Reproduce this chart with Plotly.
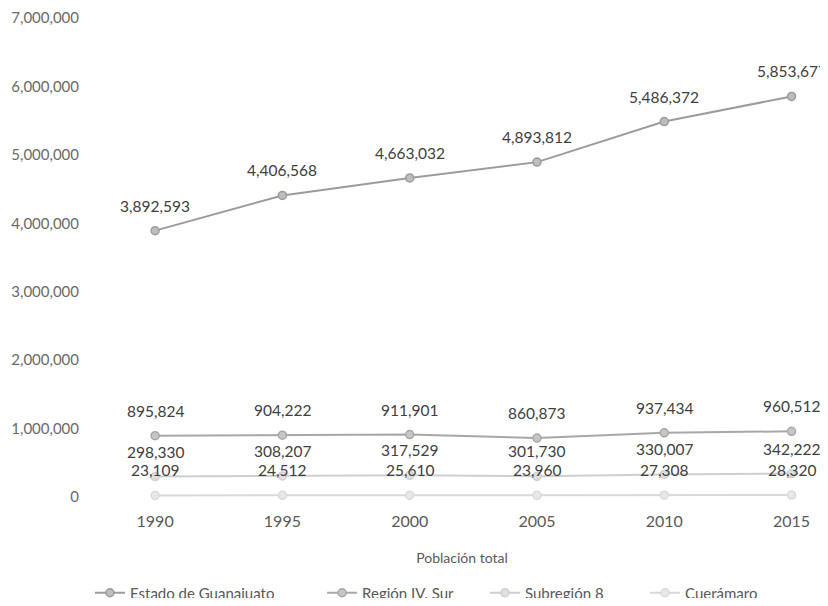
import plotly.graph_objects as go

years = ["1990", "1995", "2000", "2005", "2010", "2015"]
estado = [3892593, 4406568, 4663032, 4893812, 5486372, 5853677]
region = [895824, 904222, 911901, 860873, 937434, 960512]
subregion = [298330, 308207, 317529, 301730, 330007, 342222]
cueramaro = [23109, 24512, 25610, 23960, 27308, 28320]

series = [
    ("Estado de Guanajuato", estado, "#9c9c9c", "#bdbdbd"),
    ("Región IV. Sur", region, "#a8a8a8", "#c6c6c6"),
    ("Subregión 8", subregion, "#cfcfcf", "#e0e0e0"),
    ("Cuerámaro", cueramaro, "#d9d9d9", "#e8e8e8"),
]
legend_x = [-0.0345, 0.299, 0.533, 0.763]

FONT = "Lato"
fig = go.Figure()
legend_ids = ["legend", "legend2", "legend3", "legend4"]
for (name, vals, lc, fc), lid in zip(series, legend_ids):
    fig.add_trace(go.Scatter(
        x=years, y=vals, name=name, mode="lines+markers",
        line=dict(color=lc, width=2),
        marker=dict(symbol="circle", size=8, color=fc, line=dict(color=lc, width=1.5)),
        cliponaxis=False, legend=lid,
    ))
    for i, v in enumerate(vals):
        fig.add_annotation(x=i, y=v, xref="x", yref="y", text=f"{v:,}", showarrow=False,
                           yshift=25, font=dict(family=FONT, size=15.5, color="#404040"))

fig.update_layout(
    width=820, height=590,
    margin=dict(l=106, r=18, t=10, b=101, autoexpand=False),
    paper_bgcolor="white", plot_bgcolor="white",
    font=dict(family=FONT, size=13, color="#595959"),
    showlegend=True,
    xaxis=dict(type="category", range=[-0.323, 5.145], showgrid=False, showline=False,
               zeroline=False, ticks="", ticklabelstandoff=13, automargin=False,
               tickfont=dict(family=FONT, size=16, color="#595959"),
               title=dict(text="Población total", standoff=24,
                          font=dict(family=FONT, size=14, color="#595959"))),
    yaxis=dict(range=[0, 7000000], dtick=1000000, tickformat=",d", showgrid=False,
               showline=False, zeroline=False, ticks="", ticklabelstandoff=34, automargin=False,
               tickfont=dict(family=FONT, size=15, color="#6a6a6a")),
)
for lid, lx in zip(legend_ids, legend_x):
    fig.update_layout({lid: dict(orientation="h", x=lx, xanchor="left", y=-0.2004,
                                 yanchor="middle", bgcolor="rgba(0,0,0,0)",
                                 font=dict(family=FONT, size=15, color="#595959"),
                                 itemwidth=30)})

fig.write_html("out.html")
